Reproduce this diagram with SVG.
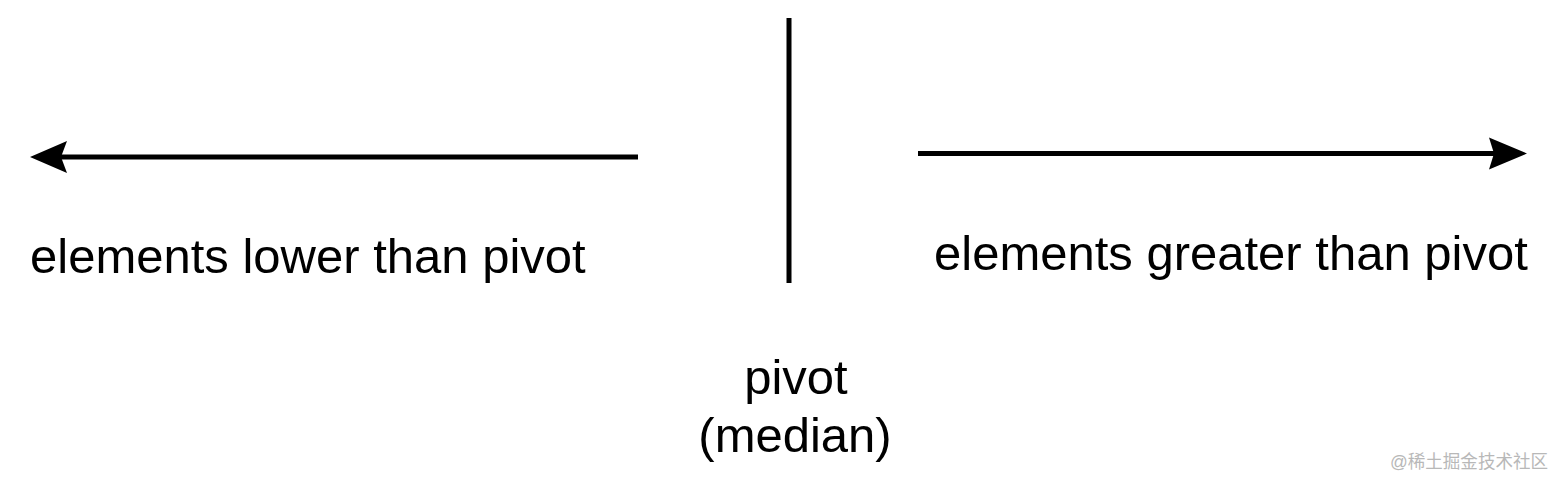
<svg xmlns="http://www.w3.org/2000/svg" width="1559" height="477" viewBox="0 0 1559 477">
<style>
.t{font-family:"Liberation Sans",Arial,sans-serif;font-size:49px;fill:#000}
.ln{stroke:#000;stroke-width:5;fill:none}
.wm{font-family:"Liberation Sans","Noto Sans CJK SC",sans-serif;font-size:18px;fill:#b8b8b8}
</style>
<rect width="1559" height="477" fill="#fff"/>
<g id="connectors">
<line class="ln" x1="638" y1="157" x2="60" y2="157"/>
<polygon points="30,157 67,141 61,157 67,173" fill="#000"/>
<line class="ln" x1="918" y1="153.5" x2="1496" y2="153.5"/>
<polygon points="1527,153.5 1489,137.5 1494,153.5 1489,169.5" fill="#000"/>
</g>
<g id="pivot-line">
<line class="ln" x1="789" y1="18" x2="789" y2="283" stroke-width="5.5"/>
</g>
<g id="lower-label">
<text class="t" x="30" y="273">elements lower than pivot</text>
</g>
<g id="greater-label">
<text class="t" x="934" y="270">elements greater than pivot</text>
</g>
<g id="pivot-label">
<text class="t" text-anchor="middle" x="796" y="394">pivot</text>
<text class="t" text-anchor="middle" x="795" y="452">(median)</text>
</g>
<text class="wm" x="1390" y="468" textLength="158" lengthAdjust="spacingAndGlyphs">@稀土掘金技术社区</text>
</svg>
